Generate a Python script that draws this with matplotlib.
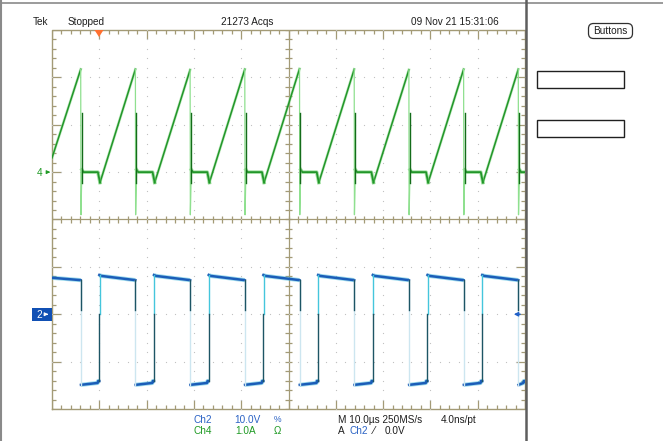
import numpy as np
import matplotlib
matplotlib.use('Agg')
import matplotlib.pyplot as plt
from matplotlib.patches import Rectangle, FancyBboxPatch, Polygon
from matplotlib.collections import LineCollection

time_window_us = (0.0, 100.0)          # 10 div x 10 us/div
fall_times_us = [6.07, 17.63, 29.20, 40.76, 52.33, 63.89, 75.45, 87.02, 98.58]
rise_times_us = [10.00, 21.56, 33.13, 44.69, 56.26, 67.82, 79.38, 90.95]

# Ch4 : inductor current (A), 1.0 A/div, ground marker at +1 div
ch4_scale_A = 1.0
ch4_offset_div = 1.0
ch4_start_A = 0.30
ch4_peak_A = [2.17, 2.17, 2.16, 2.17, 2.18, 2.17, 2.16, 2.17, 2.17]
ch4_flat_A = 0.0
ch4_dip_A = -0.22
ch4_undershoot_A = -0.90
ch4_edge_dark_top_A = 1.25
ch4_edge_dark_bot_A = -0.23

# Ch2 : switch-node voltage (V), 10.0 V/div, ground marker at -2 div
ch2_scale_V = 10.0
ch2_offset_div = -2.0
ch2_start_V = 7.7
ch2_high_start_V = 8.3
ch2_high_end_V = 7.2
ch2_low_start_V = -14.9
ch2_low_end_V = -14.5
ch2_fall_dark_bot_V = 1.0

header_texts = ["Tek", "Stopped", "21273 Acqs", "09 Nov 21 15:31:06"]

# ---------------- figure ----------------
W, H = 663, 441
fig = plt.figure(figsize=(W / 100, H / 100), dpi=100)
fig.patch.set_facecolor('white')
FONT = ['Liberation Sans Narrow', 'Liberation Sans', 'DejaVu Sans']

gx0, gx1, gy0, gy1 = 52, 525, 30, 409   # graticule in pixels
rect = [gx0 / W, 1 - gy1 / H, (gx1 - gx0) / W, (gy1 - gy0) / H]

# graticule axes, in divisions
axg = fig.add_axes(rect)
axg.set_xlim(0, 10)
axg.set_ylim(-4, 4)
axg.axis('off')
GC = '#a39a76'
pxd = (gx1 - gx0) / 10.0
tmin = 4 / pxd
tmaj = 9 / pxd
tc = 3.5 / pxd
segs = []
xs = np.round(np.arange(0, 10.001, 0.2), 3)
ys = np.round(np.arange(-4, 4.001, 0.2), 3)
for x in xs:
    L = tmaj if abs(x - round(x)) < 1e-6 else tmin
    segs.append([(x, -4), (x, -4 + L)])
    segs.append([(x, 4), (x, 4 - L)])
    segs.append([(x, -tc), (x, tc)])
for y in ys:
    L = tmaj if abs(y - round(y)) < 1e-6 else tmin
    segs.append([(0, y), (L, y)])
    segs.append([(10, y), (10 - L, y)])
    segs.append([(5 - tc, y), (5 + tc, y)])
axg.add_collection(LineCollection(segs, colors=GC, linewidths=0.9))
axg.plot([0, 10, 10, 0, 0], [-4, -4, 4, 4, -4], color=GC, lw=1.0, clip_on=False)
axg.plot([5, 5], [-4, 4], color=GC, lw=0.9)
axg.plot([0, 10], [0, 0], color=GC, lw=0.9)
dx, dy = [], []
for i in range(1, 10):
    if i == 5:
        continue
    for y in ys:
        dx.append(i); dy.append(y)
for j in range(-3, 4):
    if j == 0:
        continue
    for x in xs:
        dx.append(x); dy.append(j)
axg.plot(dx, dy, ls='none', marker='s', ms=0.8, mew=0, color='#c2c2c2')

# ---------------- Ch2 trace ----------------
ax2 = fig.add_axes(rect, zorder=3)
ax2.set_xlim(*time_window_us)
ax2.set_ylim((-4 - ch2_offset_div) * ch2_scale_V, (4 - ch2_offset_div) * ch2_scale_V)
ax2.axis('off'); ax2.patch.set_alpha(0)
BLUE = '#1b5db8'
hi_t, hi_v, lo_t, lo_v = [], [], [], []
hi_t += [0.0, fall_times_us[0]]; hi_v += [ch2_start_V, ch2_high_end_V]
for k, r in enumerate(rise_times_us):
    f = fall_times_us[k + 1]
    hi_t += [np.nan, r, r + 0.35, f]
    hi_v += [np.nan, ch2_high_start_V, ch2_high_start_V - 0.2, ch2_high_end_V]
for k, f in enumerate(fall_times_us):
    r = rise_times_us[k] if k < len(rise_times_us) else time_window_us[1]
    lo_t += [np.nan, f + 0.05, r - 0.35, r - 0.25, r]
    lo_v += [np.nan, ch2_low_start_V, ch2_low_end_V, ch2_low_end_V + 0.4, ch2_low_end_V + 0.4]
ax2.plot(hi_t, hi_v, color='#3fb8dc', lw=3.0, alpha=0.5, solid_capstyle='butt')
ax2.plot(hi_t, hi_v, color=BLUE, lw=1.8)
ax2.plot(lo_t, lo_v, color='#3fb8dc', lw=3.0, alpha=0.5, solid_capstyle='butt')
ax2.plot(lo_t, lo_v, color=BLUE, lw=1.8)
for f in fall_times_us:
    ax2.plot([f, f], [ch2_high_end_V, ch2_low_start_V], color='#cde6f0', lw=1.0)
    ax2.plot([f, f], [ch2_high_end_V, ch2_fall_dark_bot_V], color='#1d5565', lw=1.0)
for r in rise_times_us:
    ax2.plot([r + 0.05, r + 0.05], [0.0, ch2_high_start_V], color='#44c6dc', lw=1.0)
    ax2.plot([r, r], [ch2_low_end_V + 0.4, 0.0], color='#1d5565', lw=1.0)

# ---------------- Ch4 trace ----------------
ax4 = fig.add_axes(rect, zorder=4)
ax4.set_xlim(*time_window_us)
ax4.set_ylim((-4 - ch4_offset_div) * ch4_scale_A, (4 - ch4_offset_div) * ch4_scale_A)
ax4.axis('off'); ax4.patch.set_alpha(0)
GREEN = '#22962a'
ramp_t = [0.0, fall_times_us[0]]
ramp_i = [ch4_start_A, ch4_peak_A[0]]
for k, r in enumerate(rise_times_us):
    ramp_t += [np.nan, r + 0.15, fall_times_us[k + 1]]
    ramp_i += [np.nan, ch4_dip_A, ch4_peak_A[k + 1]]
flat_t, flat_i = [], []
for k, f in enumerate(fall_times_us):
    r = rise_times_us[k] if k < len(rise_times_us) else time_window_us[1] + 0.5
    flat_t += [np.nan, f + 0.25, f + 0.6, r - 0.3, r + 0.15]
    flat_i += [np.nan, 0.05, ch4_flat_A, ch4_flat_A, ch4_dip_A]
ax4.plot(ramp_t, ramp_i, color='#8ad88a', lw=2.0, alpha=0.55)
ax4.plot(ramp_t, ramp_i, color=GREEN, lw=1.1)
ax4.plot(flat_t, flat_i, color='#5cc85c', lw=2.6, alpha=0.55)
ax4.plot(flat_t, flat_i, color=GREEN, lw=1.3)
for k, f in enumerate(fall_times_us):
    ax4.plot([f, f + 0.05, f + 0.25], [ch4_peak_A[k], ch4_undershoot_A, 0.05],
             color='#8fe08f', lw=0.9)
    ax4.plot([f + 0.2, f + 0.2], [ch4_edge_dark_top_A, ch4_edge_dark_bot_A],
             color='#146c1a', lw=1.0)

# ---------------- overlay (pixel coordinates) ----------------
axo = fig.add_axes([0, 0, 1, 1], zorder=10)
axo.set_xlim(0, W); axo.set_ylim(H, 0)
axo.axis('off'); axo.patch.set_alpha(0)

# frame
axo.plot([0, W], [2.5, 2.5], color='#8a8a8a', lw=1.2)
axo.plot([1.2, 1.2], [0, H], color='#8a8a8a', lw=1.5)
axo.plot([526, 526], [0, H], color='#5e5e5e', lw=1.8)

TXT = '#1e1e1e'
fs = 7.2
axo.text(33, 22, header_texts[0], fontsize=fs, family=FONT, color=TXT, va='center', ha='left')
axo.text(68, 22, header_texts[1], fontsize=fs, family=FONT, color=TXT, va='center', ha='left')
axo.text(247, 22, header_texts[2], fontsize=fs, family=FONT, color=TXT, va='center', ha='center')
axo.text(455, 22, header_texts[3], fontsize=fs, family=FONT, color=TXT, va='center', ha='center')

# trigger position marker
axo.add_patch(Polygon([(94.5, 30), (103.5, 30), (99, 37)], closed=True,
                      facecolor='#ff7030', edgecolor='none'))

# Buttons box and side boxes
axo.add_patch(FancyBboxPatch((590, 25), 41, 12,
                             boxstyle='round,pad=1.5,rounding_size=5',
                             facecolor='white', edgecolor='#303030', lw=0.9))
axo.text(610.5, 31, 'Buttons', fontsize=fs, family=FONT, color=TXT, va='center', ha='center')
axo.add_patch(Rectangle((537, 70.5), 87, 17, facecolor='none', edgecolor='#202020', lw=1.0))
axo.add_patch(Rectangle((537, 119.5), 87, 17, facecolor='none', edgecolor='#202020', lw=1.0))

# channel ground markers
GT = '#1f9a24'
BT = '#2a62c4'
ch4_y = gy0 + (4 - ch4_offset_div) * (gy1 - gy0) / 8
ch2_y = gy0 + (4 - ch2_offset_div) * (gy1 - gy0) / 8
axo.text(40, ch4_y + 0.5, '4', fontsize=fs, family=FONT, color=GT, va='center', ha='center')
axo.annotate('', xy=(53, ch4_y), xytext=(45, ch4_y),
             arrowprops=dict(arrowstyle='-|>', color=GT, lw=0.8, mutation_scale=5))
axo.add_patch(Rectangle((32, ch2_y - 6.5), 20, 13, facecolor='#1150b4', edgecolor='none'))
axo.text(39, ch2_y + 0.5, '2', fontsize=fs, family=FONT, color='white', va='center', ha='center')
axo.annotate('', xy=(51, ch2_y), xytext=(43.5, ch2_y),
             arrowprops=dict(arrowstyle='-|>', color='white', lw=0.8, mutation_scale=5))
# trigger level marker (right edge)
axo.annotate('', xy=(511, ch2_y), xytext=(523, ch2_y),
             arrowprops=dict(arrowstyle='-|>', color='#2060c8', lw=1.0, mutation_scale=6))

# bottom readouts
y1, y2 = 420, 431
axo.text(194, y1, 'Ch2', fontsize=fs, family=FONT, color=BT, va='center')
axo.text(234, y1, '10.0V', fontsize=fs, family=FONT, color=BT, va='center')
axo.text(274, y1, '%', fontsize=fs - 1, family=FONT, color=BT, va='center')
axo.text(194, y2, 'Ch4', fontsize=fs, family=FONT, color=GT, va='center')
axo.text(235, y2, '1.0A', fontsize=fs, family=FONT, color=GT, va='center')
axo.text(274, y2, 'Ω', fontsize=fs, family=FONT, color=GT, va='center')
axo.text(338, y1, 'M 10.0µs 250MS/s', fontsize=fs, family=FONT, color=TXT, va='center')
axo.text(441, y1, '4.0ns/pt', fontsize=fs, family=FONT, color=TXT, va='center')
axo.text(338, y2, 'A', fontsize=fs, family=FONT, color=TXT, va='center')
axo.text(349, y2, 'Ch2', fontsize=fs, family=FONT, color=BT, va='center')
axo.text(373, y2, '⁄', fontsize=fs, family=['DejaVu Sans'], color=TXT, va='center')
axo.text(385, y2, '0.0V', fontsize=fs, family=FONT, color=TXT, va='center')

fig.savefig('out.png', dpi=100, facecolor='white')
